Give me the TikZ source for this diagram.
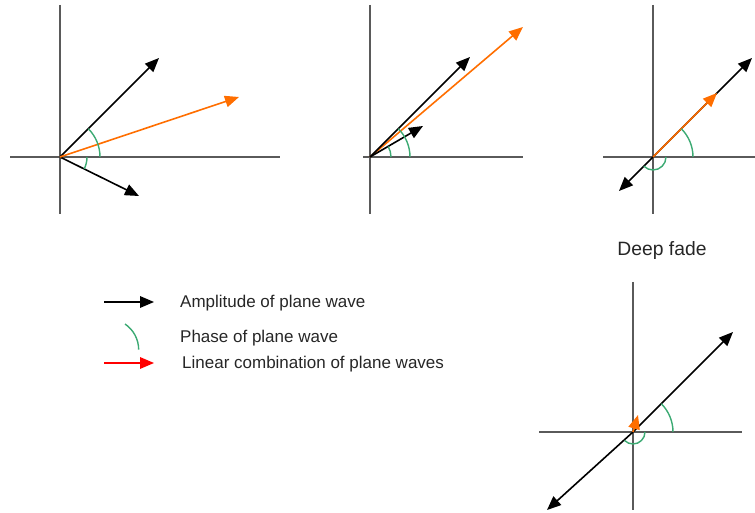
\documentclass[tikz,border=0pt]{standalone}
\usepackage{fontspec}
\setmainfont{Liberation Sans}
\usetikzlibrary{arrows.meta}
\definecolor{wavorange}{RGB}{255,110,0}
\definecolor{phasegreen}{RGB}{60,170,115}
\definecolor{axisgray}{RGB}{90,90,90}
\begin{document}
\begin{tikzpicture}[x=1pt,y=1pt,
  axisline/.style={draw=axisgray,line width=1.4pt},
  amp/.style={draw=black,line width=1.6pt,-{Triangle[length=14pt,width=11.5pt]}},
  comb/.style={draw=wavorange,line width=1.6pt,-{Triangle[length=14pt,width=11.5pt]}},
  combred/.style={draw=red,line width=1.6pt,-{Triangle[length=14pt,width=11.5pt]}},
  phase/.style={draw=phasegreen,line width=1.4pt},
  legtext/.style={anchor=west,inner sep=0pt,font=\fontsize{17}{20}\selectfont,text=black!85}]
\useasboundingbox (0,0) rectangle (755,512);
% ---- panel 1
\coordinate (o1) at (60,355);
\coordinate (v1t) at (60,507); \coordinate (v1b) at (60,298);
\coordinate (h1l) at (10,355); \coordinate (h1r) at (280,355);
\coordinate (a1) at (159,454); \coordinate (a2) at (139,316);
\coordinate (c1) at (239,415);
\draw[axisline] (v1t) -- (v1b);
\draw[axisline] (h1l) -- (h1r);
\draw[amp] (o1) -- (a1);
\draw[amp] (o1) -- (a2);
\draw[comb] (o1) -- (c1);
\draw[phase] (o1) ++(40,0) arc[start angle=0,end angle=45,radius=40];
\draw[phase] (o1) ++(27,0) arc[start angle=0,end angle=-26,radius=27];
% ---- panel 2
\coordinate (o2) at (370,355);
\coordinate (v2t) at (370,507); \coordinate (v2b) at (370,298);
\coordinate (h2l) at (363,355); \coordinate (h2r) at (523,355);
\coordinate (b1) at (470,455); \coordinate (b2) at (423,386);
\coordinate (c2) at (523,485);
\draw[axisline] (v2t) -- (v2b);
\draw[axisline] (h2l) -- (h2r);
\draw[comb] (o2) -- (c2);
\draw[amp] (o2) -- (b1);
\draw[amp] (o2) -- (b2);
\draw[phase] (o2) ++(40,0) arc[start angle=0,end angle=45,radius=40];
\draw[phase] (o2) ++(21,0) arc[start angle=0,end angle=30,radius=21];
% ---- panel 3
\coordinate (o3) at (653,355);
\coordinate (v3t) at (653,507); \coordinate (v3b) at (653,298);
\coordinate (h3l) at (603,355); \coordinate (h3r) at (755,355);
\coordinate (d1) at (752,454); \coordinate (d2) at (619,321);
\coordinate (c3) at (717,419);
\draw[axisline] (v3t) -- (v3b);
\draw[axisline] (h3l) -- (h3r);
\draw[amp] (o3) -- (d1);
\draw[amp] (o3) -- (d2);
\draw[comb] (o3) -- (c3);
\draw[phase] (o3) ++(40,0) arc[start angle=0,end angle=45,radius=40];
\draw[phase] (o3) ++(13,0) arc[start angle=0,end angle=-135,radius=13];
\node[inner sep=0pt,font=\fontsize{19.3}{22}\selectfont,text=black!85] (fade) at (662,261) {Deep fade};
% ---- panel 4
\coordinate (o4) at (633,80);
\coordinate (v4t) at (633,230); \coordinate (v4b) at (633,2);
\coordinate (h4l) at (539,80); \coordinate (h4r) at (742,80);
\coordinate (e1) at (733,180); \coordinate (e2) at (547,2);
\coordinate (c4) at (638,97);
\draw[axisline] (v4t) -- (v4b);
\draw[axisline] (h4l) -- (h4r);
\draw[amp] (o4) -- (e1);
\draw[amp] (o4) -- (e2);
\draw[comb] (o4) -- (c4);
\draw[phase] (o4) ++(40,0) arc[start angle=0,end angle=45,radius=40];
\draw[phase] (o4) ++(12,0) arc[start angle=0,end angle=-135,radius=12];
% ---- legend
\coordinate (l1a) at (104,210); \coordinate (l1b) at (154,210);
\draw[amp] (l1a) -- (l1b);
\node[legtext] (t1) at (180,208.5) {Amplitude of plane wave};
\coordinate (l2a) at (125,188);
\draw[phase] (l2a) arc[start angle=56,end angle=0,radius=31];
\node[legtext] (t2) at (180,173.5) {Phase of plane wave};
\coordinate (l3a) at (104,149); \coordinate (l3b) at (154,149);
\draw[combred] (l3a) -- (l3b);
\node[legtext] (t3) at (182,147.5) {Linear combination of plane waves};
\end{tikzpicture}
\end{document}
